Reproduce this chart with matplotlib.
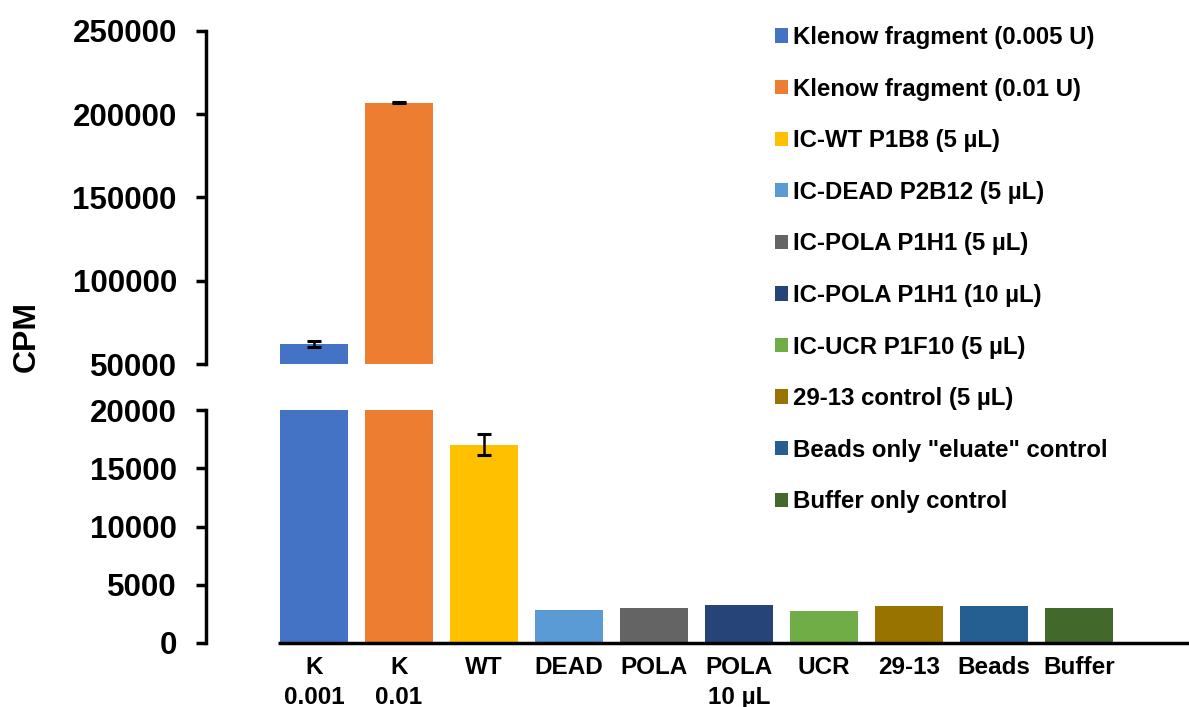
import numpy as np
import matplotlib
matplotlib.use('Agg')
import matplotlib.pyplot as plt
from matplotlib.patches import Patch

plt.rcParams['font.family'] = ['Liberation Sans', 'DejaVu Sans']
plt.rcParams['font.weight'] = 'bold'

# data
short_labels = ['K\n0.001', 'K\n0.01', 'WT', 'DEAD', 'POLA', 'POLA\n10 µL',
                'UCR', '29-13', 'Beads', 'Buffer']
legend_labels = ['Klenow fragment (0.005 U)', 'Klenow fragment (0.01 U)',
                 'IC-WT P1B8 (5 µL)', 'IC-DEAD P2B12 (5 µL)', 'IC-POLA P1H1 (5 µL)',
                 'IC-POLA P1H1 (10 µL)', 'IC-UCR P1F10 (5 µL)', '29-13 control (5 µL)',
                 'Beads only "eluate" control', 'Buffer only control']
cpm = [62000, 206900, 17000, 2850, 3020, 3280, 2760, 3190, 3190, 3000]
cpm_err = [1800, 300, 900, 0, 0, 0, 0, 0, 0, 0]
colors = ['#4472C4', '#ED7D31', '#FFC000', '#5B9BD5', '#646464',
          '#264478', '#70AD47', '#997300', '#255E91', '#43682B']

W, H = 1189, 707
fig = plt.figure(figsize=(W / 100, H / 100), dpi=100)

x = np.arange(len(cpm))
xl, xr = (206 - 314) / 85, (W - 314) / 85

# top (broken) axis and bottom axis
ax_top = fig.add_axes([206 / W, 1 - 364 / H, (W - 206) / W, (364 - 30.7) / H])
ax_bot = fig.add_axes([206 / W, 1 - 643 / H, (W - 206) / W, (643 - 410) / H])

for ax in (ax_top, ax_bot):
    ax.bar(x, cpm, width=0.8, color=colors)
    ax.errorbar(x[:3], cpm[:3], yerr=cpm_err[:3], fmt='none', ecolor='black',
                elinewidth=1.8, capsize=5, capthick=2.2)
    ax.set_xlim(xl, xr)
    for s in ('top', 'right', 'bottom'):
        ax.spines[s].set_visible(False)
    ax.spines['left'].set_linewidth(2.5)
    ax.tick_params(axis='y', direction='out', length=7, width=2.5,
                   labelsize=22.5, pad=14)

ax_top.set_ylim(50000, 250000)
ax_top.set_yticks(np.arange(50000, 250001, 50000))
ax_top.set_xticks([])

ax_bot.set_ylim(0, 20000)
ax_bot.set_yticks(np.arange(0, 20001, 5000))
ax_bot.set_xticks(x)
ax_bot.set_xticklabels(short_labels, fontsize=17.5, linespacing=1.4)
ax_bot.tick_params(axis='x', length=0, pad=9)
ax_bot.hlines(0, -0.42, xr, color='black', linewidth=2.5, clip_on=False)

fig.text(27 / W, 1 - 336 / H, 'CPM', rotation=90, ha='center', va='center',
         fontsize=23, fontweight='bold')

handles = [Patch(facecolor=c) for c in colors]
fig.legend(handles, legend_labels, loc='upper left',
           bbox_to_anchor=(775 / W, 1 - 26 / H), frameon=False,
           fontsize=17.3, handlelength=0.54, handleheight=0.54, handletextpad=0.2,
           labelspacing=1.19, borderpad=0, borderaxespad=0)

fig.savefig('out.png', dpi=100)
